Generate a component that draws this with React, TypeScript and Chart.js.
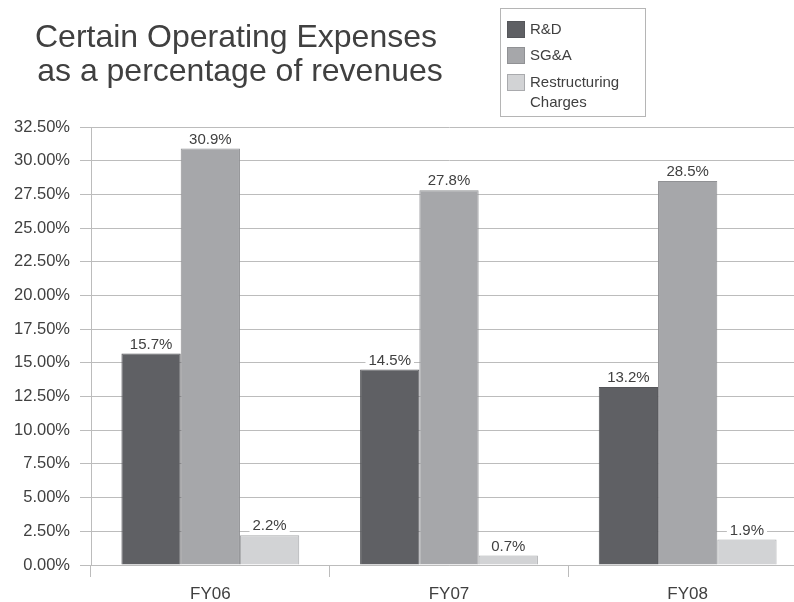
import React, { useEffect, useRef } from "react";
import { Chart, registerables } from "chart.js";

Chart.register(...registerables);

const categories = ["FY06", "FY07", "FY08"];
const seriesNames = ["R&D", "SG&A", "Restructuring Charges"];
const legendLines = [["R&D"], ["SG&A"], ["Restructuring", "Charges"]];
const rdValues = [15.7, 14.5, 13.2];
const sgaValues = [30.9, 27.8, 28.5];
const restructuringValues = [2.2, 0.7, 1.9];
const titleLines = ["Certain Operating Expenses", "as a percentage of revenues"];
const yMin = 0;
const yMax = 32.5;
const yStep = 2.5;

const fillColors = ["#5f6064", "#a6a7aa", "#d2d3d5"];
const edgeColors = ["#55565a", "#909194", "#a9aaad"];
const FONT = "'Liberation Sans', Arial, Helvetica, sans-serif";
const TEXT = "#404040";
const GRID = "#bcbcbc";

const overlayPlugin = {
  id: "overlay",
  afterDatasetsDraw(chart: any) {
    const ctx = chart.ctx;
    ctx.save();
    ctx.font = `15px ${FONT}`;
    ctx.textAlign = "center";
    ctx.textBaseline = "middle";
    chart.data.datasets.forEach((ds: any, di: number) => {
      const meta = chart.getDatasetMeta(di);
      meta.data.forEach((el: any, i: number) => {
        const txt = ds.data[i].toFixed(1) + "%";
        const w = ctx.measureText(txt).width;
        const cy = el.y - 9;
        ctx.fillStyle = "#ffffff";
        ctx.fillRect(el.x - w / 2 - 3, cy - 8, w + 6, 15);
        ctx.fillStyle = TEXT;
        ctx.fillText(txt, el.x, cy);
      });
    });
    ctx.restore();
  },
  afterDraw(chart: any) {
    const ctx = chart.ctx;
    ctx.save();
    // Title
    ctx.fillStyle = TEXT;
    ctx.font = `32px ${FONT}`;
    ctx.textAlign = "center";
    ctx.textBaseline = "alphabetic";
    ctx.fillText(titleLines[0], 236, 47);
    ctx.fillText(titleLines[1], 240, 81);
    // Legend box
    ctx.strokeStyle = "#b5b5b5";
    ctx.lineWidth = 1;
    ctx.fillStyle = "#ffffff";
    ctx.fillRect(500.5, 8.5, 145, 108);
    ctx.strokeRect(500.5, 8.5, 145, 108);
    const rowY = [21, 47, 74];
    ctx.font = `15px ${FONT}`;
    ctx.textAlign = "left";
    ctx.textBaseline = "middle";
    chart.data.datasets.forEach((ds: any, i: number) => {
      const y = rowY[i];
      ctx.fillStyle = ds.backgroundColor;
      ctx.fillRect(507, y, 18, 17);
      ctx.strokeStyle = ds.borderColor;
      ctx.strokeRect(507.5, y + 0.5, 17, 16);
      ctx.fillStyle = TEXT;
      legendLines[i].forEach((line, li) => {
        ctx.fillText(line, 530, y + 9 + li * 20);
      });
    });
    ctx.restore();
  },
};

export default function App() {
  const ref = useRef<HTMLCanvasElement>(null);
  useEffect(() => {
    if (!ref.current) return;
    const values = [rdValues, sgaValues, restructuringValues];
    const chart = new Chart(ref.current, {
      type: "bar",
      data: {
        labels: categories,
        datasets: seriesNames.map((name, i) => ({
          label: name,
          data: values[i],
          backgroundColor: fillColors[i],
          borderColor: edgeColors[i],
          borderWidth: 1,
          categoryPercentage: 0.745,
          barPercentage: 1,
        })),
      },
      options: {
        animation: false,
        responsive: true,
        maintainAspectRatio: false,
        layout: { padding: { top: 127, bottom: 0, left: 0, right: 5 } },
        plugins: {
          legend: { display: false },
          title: { display: false },
          tooltip: { enabled: false },
        },
        scales: {
          x: {
            grid: {
              display: true,
              offset: true,
              drawOnChartArea: false,
              drawTicks: true,
              tickLength: 12,
              color: GRID,
            },
            border: { display: true, color: GRID },
            ticks: {
              color: TEXT,
              font: { family: FONT, size: 17 },
              padding: 7,
            },
            afterFit: (s: any) => {
              s.height = 37;
            },
          },
          y: {
            min: yMin,
            max: yMax,
            grid: {
              color: GRID,
              drawTicks: true,
              tickLength: 11,
            },
            border: { display: true, color: GRID },
            ticks: {
              stepSize: yStep,
              color: TEXT,
              font: { family: FONT, size: 16.5 },
              padding: 10,
              callback: (v: any) => Number(v).toFixed(2) + "%",
            },
            afterFit: (s: any) => {
              s.width = 91;
            },
          },
        },
      },
      plugins: [overlayPlugin],
    });
    return () => chart.destroy();
  }, []);
  return (
    <div
      style={{
        position: "fixed",
        left: 0,
        top: 0,
        width: 794,
        height: 602,
        overflow: "hidden",
        background: "#ffffff",
      }}
    >
      <div style={{ position: "relative", width: 812, height: 602 }}>
        <canvas ref={ref} />
      </div>
    </div>
  );
}
